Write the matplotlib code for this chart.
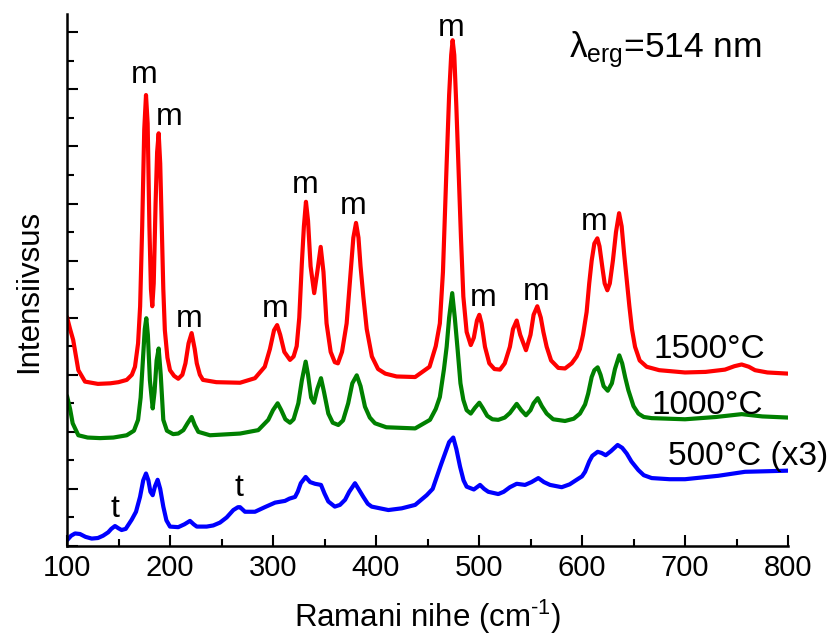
import matplotlib.pyplot as plt
import matplotlib.ticker as ticker

plt.rc('font', family='Liberation Sans')
plt.rc('mathtext', fontset='custom', rm='Liberation Sans', it='Liberation Sans', bf='Liberation Sans')

# 1500 C spectrum (red)
x_1500 = [100, 103, 106, 111, 117.5, 130, 142, 150, 158, 163, 166, 169, 171, 173, 175, 176.7, 178.3, 180,
          181.5, 182.8, 184.2, 186, 187.5, 189, 190.5, 192, 193.5, 195, 197.5, 200, 204, 208, 212, 215, 218,
          221, 224, 226, 229, 232, 245, 268, 282.5, 292, 297, 301, 304, 307, 311, 316.5, 320, 323, 325.5,
          328, 330, 332, 334, 336.5, 340, 343, 346.3, 349, 352, 356, 360, 363, 367, 371.5, 375, 378, 380.6,
          383, 385, 387.7, 391, 396, 402, 409, 420, 438, 452, 458, 462, 465, 468.6, 471, 473, 474.4, 476,
          478, 480, 482.5, 484.8, 488, 492, 495, 498, 500.3, 502.5, 505.8, 510, 515, 520.4, 525, 530, 533,
          536.6, 540, 545.6, 550, 553, 556.6, 560, 562.5, 565.7, 570, 577, 583.5, 590, 594.8, 598, 601,
          604.5, 607, 609.4, 612, 614.9, 617, 620, 622, 624.6, 627, 630, 633, 636, 638.5, 641, 643.4, 646,
          648.5, 651.5, 656, 662.8, 675, 700, 720, 738.8, 748, 755, 762, 768, 780, 800]
y_1500 = [4.01, 3.80, 3.61, 3.08, 2.88, 2.84, 2.85, 2.87, 2.91, 3.00, 3.14, 3.55, 4.20, 5.60, 7.30, 7.90,
          7.40, 5.60, 4.50, 4.20, 4.60, 6.00, 6.90, 7.23, 6.70, 5.60, 4.50, 3.78, 3.30, 3.08, 2.98, 2.93,
          3.00, 3.20, 3.55, 3.73, 3.45, 3.20, 3.00, 2.91, 2.87, 2.86, 2.94, 3.14, 3.45, 3.78, 3.87, 3.70,
          3.40, 3.26, 3.32, 3.50, 4.00, 4.95, 5.60, 6.03, 5.70, 4.90, 4.43, 4.80, 5.24, 4.80, 3.90, 3.40,
          3.22, 3.20, 3.40, 3.90, 4.70, 5.40, 5.66, 5.40, 4.90, 4.37, 3.80, 3.32, 3.10, 3.02, 2.97, 2.96,
          3.14, 3.50, 3.90, 4.80, 6.70, 7.90, 8.60, 8.86, 8.60, 7.70, 6.70, 5.40, 4.37, 3.75, 3.52, 3.65,
          3.95, 4.05, 3.90, 3.49, 3.20, 3.10, 3.09, 3.20, 3.49, 3.80, 3.95, 3.70, 3.43, 3.70, 4.05, 4.20,
          4.00, 3.75, 3.49, 3.25, 3.12, 3.11, 3.20, 3.32, 3.45, 3.70, 4.10, 4.60, 5.00, 5.30, 5.39, 5.25,
          4.85, 4.60, 4.48, 4.60, 5.00, 5.50, 5.83, 5.60, 5.10, 4.66, 4.20, 3.80, 3.49, 3.25, 3.14, 3.08,
          3.04, 3.05, 3.09, 3.15, 3.18, 3.14, 3.08, 3.04, 3.02]

# 1000 C spectrum (green)
x_1000 = [100, 103, 105.5, 111, 120, 132, 145, 158, 165, 169, 171.5, 173.5, 175.5, 177, 178.5, 180.5, 183.2,
          185, 187, 189, 191, 193.5, 197, 203, 208, 213, 217, 221, 224, 227.5, 238.8, 268, 285.7, 295.4,
          300, 304.5, 308, 312, 316.5, 320, 324.6, 328, 331.7, 334, 337, 339.8, 343, 346.6, 349.5, 353.7,
          358, 363.4, 368, 373, 377, 381.3, 385, 389.3, 394, 399, 410, 438, 452.4, 458, 462, 466, 468.6,
          471, 474, 476.5, 479.3, 482, 484.8, 488, 492, 496, 500.3, 503.5, 508, 513, 518.7, 525, 530,
          536.6, 541, 545.6, 550, 553, 557, 561, 565.7, 572, 583.5, 592, 598, 603, 606, 609.4, 612, 615.2,
          618, 621, 625, 629, 632, 636.2, 639, 642, 645, 650, 654.7, 660, 667.7, 700, 730, 755, 775, 800]
y_1000 = [2.63, 2.40, 2.15, 1.94, 1.90, 1.89, 1.90, 1.94, 2.02, 2.21, 2.60, 3.20, 3.80, 3.99, 3.70, 2.90,
          2.41, 2.70, 3.25, 3.46, 3.00, 2.21, 2.02, 1.96, 1.97, 2.03, 2.15, 2.26, 2.12, 2.00, 1.94, 1.97,
          2.03, 2.21, 2.38, 2.50, 2.38, 2.22, 2.16, 2.22, 2.50, 2.90, 3.23, 3.00, 2.60, 2.51, 2.75, 2.94,
          2.70, 2.32, 2.16, 2.12, 2.20, 2.50, 2.85, 2.99, 2.80, 2.44, 2.25, 2.15, 2.08, 2.06, 2.21, 2.40,
          2.61, 3.10, 3.49, 4.00, 4.43, 4.00, 3.43, 2.85, 2.56, 2.38, 2.32, 2.42, 2.51, 2.42, 2.28, 2.22,
          2.21, 2.25, 2.33, 2.49, 2.38, 2.29, 2.38, 2.50, 2.59, 2.45, 2.32, 2.22, 2.19, 2.23, 2.32, 2.48,
          2.67, 2.96, 3.08, 3.13, 3.00, 2.80, 2.72, 2.85, 3.10, 3.34, 3.20, 2.95, 2.73, 2.45, 2.32, 2.26,
          2.24, 2.22, 2.26, 2.31, 2.27, 2.25]

# 500 C spectrum x3 (blue)
x_500 = [100, 104, 107.8, 112.6, 118, 124, 130, 135, 140, 143, 146.6, 150, 153, 157, 162.8, 167, 170.9, 174,
         176.7, 179, 181, 183.2, 185.5, 188, 190.5, 193.5, 196.5, 200, 208, 214, 219.4, 223, 226, 235.6,
         242, 248.5, 255, 261.5, 266, 268, 272.8, 282.5, 292, 302, 311.6, 316, 321.4, 324, 327, 331.7,
         336, 340.8, 346.6, 350, 353.7, 360, 365, 370, 374, 379.6, 383, 387.7, 392, 395.8, 412, 425, 438,
         449.2, 455, 459, 463, 467, 471, 475, 478, 481.6, 485, 488, 495, 501, 505, 509, 518.7, 524, 530,
         536.6, 544.7, 551, 557.6, 563, 569, 580.3, 588, 594.8, 600, 603, 607, 610, 615.2, 619, 623, 628,
         634.6, 639, 643.4, 648, 654.7, 660, 667.7, 685, 700, 732.3, 758.3, 780, 800]
y_500 = [0.10, 0.18, 0.22, 0.21, 0.16, 0.13, 0.14, 0.18, 0.24, 0.30, 0.35, 0.31, 0.28, 0.30, 0.46, 0.60,
         0.86, 1.15, 1.27, 1.15, 0.95, 0.89, 1.05, 1.16, 1.00, 0.69, 0.45, 0.34, 0.33, 0.38, 0.44, 0.38,
         0.34, 0.34, 0.36, 0.41, 0.50, 0.63, 0.68, 0.68, 0.60, 0.60, 0.68, 0.76, 0.79, 0.83, 0.86, 0.95,
         1.10, 1.21, 1.12, 1.09, 1.07, 0.92, 0.78, 0.69, 0.72, 0.81, 0.95, 1.10, 1.00, 0.86, 0.74, 0.69,
         0.63, 0.66, 0.72, 0.89, 1.00, 1.21, 1.42, 1.62, 1.82, 1.90, 1.70, 1.39, 1.15, 1.04, 0.99, 1.07,
         1.00, 0.95, 0.91, 0.95, 1.03, 1.09, 1.07, 1.12, 1.19, 1.12, 1.07, 1.03, 1.08, 1.16, 1.22, 1.30,
         1.48, 1.58, 1.65, 1.63, 1.59, 1.66, 1.77, 1.72, 1.62, 1.48, 1.33, 1.24, 1.19, 1.17, 1.17, 1.23,
         1.30, 1.31, 1.32]

# peak markers: letter, x, y (baseline)
peak_labels = ['m', 'm', 'm', 't', 't', 'm', 'm', 'm', 'm', 'm', 'm', 'm']
peak_x = [174.8, 199, 218.4, 146.6, 266.7, 302.2, 331.7, 378, 473.5, 504.2, 556, 612]
peak_y = [8.11, 7.37, 3.84, 0.51, 0.87, 4.02, 6.18, 5.81, 8.94, 4.20, 4.31, 5.53]

curve_names = ['1500\u00b0C', '1000\u00b0C', '500\u00b0C (x3)']
name_x = [669, 667, 683.2]
name_y = [3.29, 2.32, 1.42]

fig = plt.figure(figsize=(8.35, 6.37), dpi=100)
ax = fig.add_axes([67/835., 91/637., 721/835., 532/637.])

line_kw = dict(lw=3.0, solid_joinstyle='round', solid_capstyle='round')
ax.plot(x_1500, y_1500, '-', c='#ff0000', **line_kw)
ax.plot(x_1000, y_1000, '-', c='#008000', **line_kw)
ax.plot(x_500, y_500, '-', c='#0000ff', **line_kw)

for s, px, py in zip(peak_labels, peak_x, peak_y):
    ax.text(px, py, s, ha='center', va='baseline', size=23)
for s, px, py in zip(curve_names, name_x, name_y):
    ax.text(px, py, s, ha='left', va='baseline', size=24)
ax.text(587.4, 8.57, r'$\lambda_{\rm erg}$=514 nm', ha='left', va='baseline', size=25.5)

ax.set_xlim(100, 800)
ax.set_ylim(0, 9.32)
ax.spines['top'].set_visible(False)
ax.spines['right'].set_visible(False)
ax.spines['left'].set_linewidth(1.8)
ax.spines['bottom'].set_linewidth(1.8)

ax.xaxis.set_major_locator(ticker.MultipleLocator(100))
ax.xaxis.set_minor_locator(ticker.MultipleLocator(50))
ax.yaxis.set_major_locator(ticker.MultipleLocator(1))
ax.yaxis.set_minor_locator(ticker.MultipleLocator(0.5))
ax.tick_params(which='both', direction='in', width=1.5)
ax.tick_params(which='major', length=8)
ax.tick_params(which='minor', length=5)
ax.tick_params(axis='x', labelsize=21, pad=6)
ax.tick_params(axis='y', labelleft=False)

ax.set_xlabel(r'Ramani nihe (cm$^{\text{-1}}$)', size=22.5)
ax.xaxis.label.set_va('baseline')
ax.xaxis.set_label_coords(0.5, -0.1528)
ax.set_ylabel('Intensiivsus', size=22.5)
ax.yaxis.set_label_coords(-0.032, 0.478)

plt.savefig('out.png', dpi=100)
